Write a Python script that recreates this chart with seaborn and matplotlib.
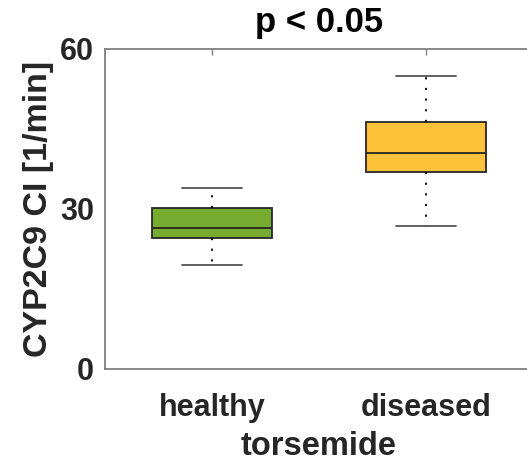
import numpy as np
import pandas as pd
import seaborn as sns
import matplotlib
matplotlib.use("Agg")
import matplotlib.pyplot as plt

groups = ["healthy", "diseased"]
# five-number summaries: min, q1, median, q3, max
healthy_vals = [19.5, 24.5, 26.4, 30.2, 33.9]
diseased_vals = [26.9, 36.9, 40.5, 46.4, 54.9]
colors = ["#77AC30", "#FFC23A"]
yticks = [0, 30, 60]

df = pd.DataFrame({
    "group": ["healthy"] * len(healthy_vals) + ["diseased"] * len(diseased_vals),
    "value": healthy_vals + diseased_vals,
})

sns.set_theme(style="white")
plt.rcParams["font.family"] = ["Liberation Sans", "DejaVu Sans"]
plt.rcParams["font.weight"] = "bold"

fig = plt.figure(figsize=(5.27, 4.62), dpi=100)
ax = fig.add_axes([105 / 527, 1 - 369 / 462, 428 / 527, 320 / 462])
ax.patch.set_visible(False)

edge = "#262626"
sns.boxplot(data=df, x="group", y="value", hue="group", order=groups,
            palette=colors, legend=False, whis=np.inf, width=0.565,
            linewidth=1.3, linecolor=edge, fill=True, saturation=1,
            whiskerprops=dict(linestyle=(0, (1.2, 4.7)), color="#000000", linewidth=1.3),
            capprops=dict(color="#555555", linewidth=1.3),
            medianprops=dict(color=edge, linewidth=1.3),
            boxprops=dict(edgecolor=edge),
            capwidths=0.28, ax=ax)

ax.set_xlim(-0.5, 1.5)
ax.set_ylim(0, 60)
ax.set_yticks(yticks)
ax.set_yticklabels([str(t) for t in yticks])
text_col = "#262626"
ax.tick_params(axis="both", direction="in", length=4, width=1, color="#808080",
               labelsize=22, labelcolor=text_col)
ax.tick_params(axis="x", top=True, pad=17)
ax.tick_params(axis="y", pad=8, right=False)
for lab in ax.get_xticklabels() + ax.get_yticklabels():
    lab.set_fontweight("bold")

for s in ["left", "bottom", "top"]:
    ax.spines[s].set_visible(True)
    ax.spines[s].set_color("#808080")
    ax.spines[s].set_linewidth(1.3)
ax.spines["right"].set_visible(False)

ax.set_xlabel("torsemide", fontsize=23.5, fontweight="bold", color=text_col)
ax.xaxis.label.set_va("baseline")
ax.xaxis.set_label_coords(0.5, -(455 - 369) / 320)
ax.set_ylabel("CYP2C9 CI [1/min]", fontsize=24.5, fontweight="bold", color=text_col, labelpad=4)
ax.set_title("p < 0.05", fontsize=25, fontweight="bold", color="#000000", pad=12)

fig.savefig("out.png", dpi=100)
